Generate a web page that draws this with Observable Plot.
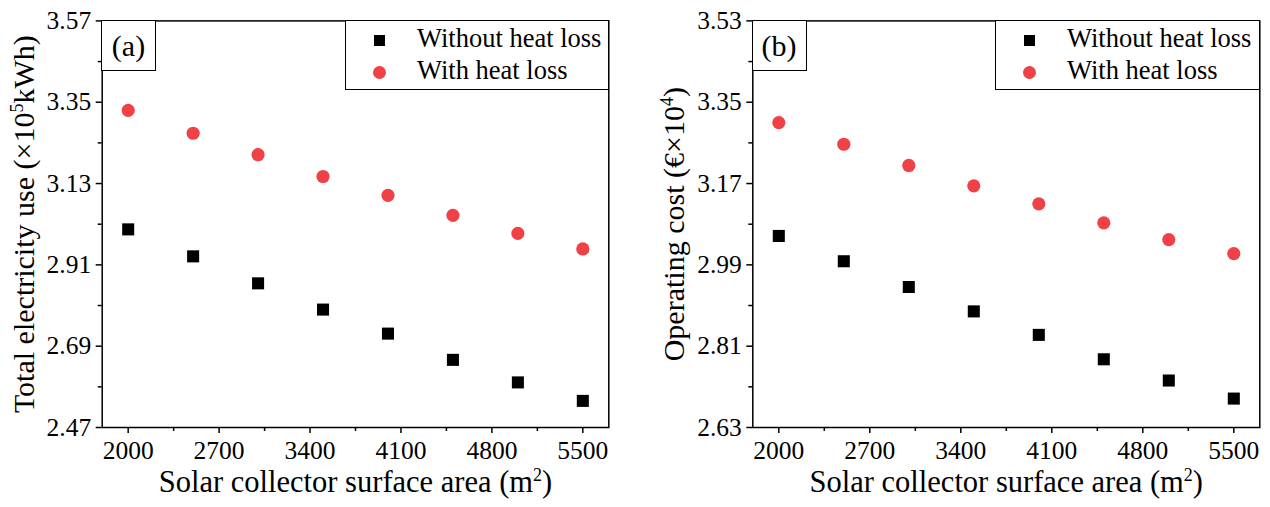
<!DOCTYPE html>
<html><head><meta charset="utf-8">
<script src="https://cdn.jsdelivr.net/npm/d3@7"></script>
<script src="https://cdn.jsdelivr.net/npm/@observablehq/plot@0.6"></script>
<style>
body{margin:0;background:#fff;}
#wrap{position:relative;width:1270px;height:507px;overflow:hidden;font-family:"Liberation Serif","LiberationSerif","Tinos","DejaVu Serif","Noto Serif",serif;color:#000;background:#fff;}
.panel{position:absolute;top:0;}
.box{position:absolute;border:1.5px solid #000;background:#fff;box-sizing:border-box;}
.tag{font-size:30px;line-height:1;}
.lt{position:absolute;font-size:26.5px;line-height:26px;white-space:nowrap;}
.mk{position:absolute;}
svg text{font-family:"Liberation Serif","LiberationSerif","Tinos","DejaVu Serif","Noto Serif",serif;}
</style></head>
<body><div id="wrap"></div>
<script>
// ---- data ----
const area = [2000, 2500, 3000, 3500, 4000, 4500, 5000, 5500];
const elecWithout = [3.006, 2.933, 2.860, 2.789, 2.724, 2.653, 2.592, 2.542];
const elecWith    = [3.328, 3.266, 3.208, 3.149, 3.098, 3.044, 2.995, 2.953];
const costWithout = [3.054, 2.998, 2.941, 2.887, 2.835, 2.781, 2.734, 2.694];
const costWith    = [3.305, 3.257, 3.210, 3.165, 3.125, 3.083, 3.046, 3.015];
const xTicks = [2000, 2700, 3400, 4100, 4800, 5500];
const xMinor = [2350, 3050, 3750, 4450, 5150];
const yTicksA = [2.47, 2.69, 2.91, 3.13, 3.35, 3.57];
const yMinorA = [2.58, 2.80, 3.02, 3.24, 3.46];
const yTicksB = [2.63, 2.81, 2.99, 3.17, 3.35, 3.53];
const yMinorB = [2.72, 2.90, 3.08, 3.26, 3.44];
const seriesNames = ["Without heat loss", "With heat loss"];
const xLabelParts = ["Solar collector surface area (m", "2", ")"];
const yLabelA = ["Total electricity use (\u00d710", "5", "kWh)"];
const yLabelB = ["Operating cost (\u20ac\u00d710", "4", ")"];
const panelTags = ["(a)", "(b)"];

const RED = "#ef4146";
const FONT = "'Liberation Serif', 'LiberationSerif', 'Tinos', 'DejaVu Serif', 'Noto Serif', serif";
const wrap = document.getElementById("wrap");

function applySup(svg, parts) {
  const full = parts.join("");
  d3.select(svg).selectAll("text").filter(function(){ return this.textContent === full; }).each(function(){
    const t = d3.select(this);
    t.text(null);
    t.append("tspan").text(parts[0]);
    t.append("tspan").attr("dy", -11).attr("font-size", 18).text(parts[1]);
    t.append("tspan").attr("dy", 11).text(parts[2]);
  });
}

function panel(o) {
  const rowsW = area.map((a, i) => ({x: a, y: o.without[i], s: seriesNames[0]}));
  const rowsH = area.map((a, i) => ({x: a, y: o.withL[i], s: seriesNames[1]}));
  const svg = Plot.plot({
    width: o.width, height: 507,
    marginLeft: o.ml, marginRight: o.mr, marginTop: 20.4, marginBottom: 80,
    style: {fontFamily: FONT, fontSize: "25px", color: "#000", background: "transparent", overflow: "visible"},
    x: {domain: [1800, 5700]},
    y: {domain: o.yDomain},
    marks: [
      Plot.axisX({ticks: xTicks, tickSize: 6, tickPadding: 7, tickFormat: d => String(d), label: null, strokeWidth: 1.5, fontSize: 25.5}),
      Plot.axisX({ticks: xMinor, tickSize: 4, tickFormat: null, text: null, label: null, strokeWidth: 1.5}),
      Plot.axisY({ticks: o.yTicks, tickSize: 6, tickPadding: 5, tickFormat: d3.format(".2f"), label: null, strokeWidth: 1.5, fontSize: 25.5}),
      Plot.axisY({ticks: o.yMinor, tickSize: 4, tickFormat: null, text: null, label: null, strokeWidth: 1.5}),
      Plot.frame({stroke: "#000", strokeWidth: 1.5}),
      Plot.dot(rowsW, {x: "x", y: "y", symbol: "square", fill: "#000", r: 6.8}),
      Plot.dot(rowsH, {x: "x", y: "y", symbol: "circle", fill: RED, r: 6.6}),
      Plot.text([xLabelParts.join("")], {text: d => d, frameAnchor: "bottom", textAnchor: "middle", dy: 64.5, fontSize: 30.5}),
      Plot.text([o.yLabel.join("")], {text: d => d, frameAnchor: "left", textAnchor: "middle", dx: -78, rotate: -90, fontSize: 30})
    ]
  });
  applySup(svg, xLabelParts);
  applySup(svg, o.yLabel);
  const div = document.createElement("div");
  div.className = "panel";
  div.style.left = o.left + "px";
  div.appendChild(svg);
  wrap.appendChild(div);
}

function addBox(left, top, w, h, cls) {
  const d = document.createElement("div");
  d.className = "box " + (cls || "");
  Object.assign(d.style, {left: left + "px", top: top + "px", width: w + "px", height: h + "px"});
  wrap.appendChild(d);
  return d;
}

function tag(left, text) {
  const d = addBox(left, 20.4, 55, 50.5, "tag");
  d.style.display = "flex"; d.style.alignItems = "center"; d.style.justifyContent = "center";
  d.textContent = text;
}

function legend(left, right) {
  addBox(left, 20.4, right - left + 0.75, 70);
  const mx = left + 34.5, tx = left + 72;
  const sq = document.createElement("div");
  sq.className = "mk";
  Object.assign(sq.style, {left: (mx - 5.5) + "px", top: (40 - 5.5) + "px", width: "11px", height: "11px", background: "#000"});
  wrap.appendChild(sq);
  const ci = document.createElement("div");
  ci.className = "mk";
  Object.assign(ci.style, {left: (mx - 6.5) + "px", top: (72 - 6.5) + "px", width: "13px", height: "13px", background: RED, borderRadius: "50%"});
  wrap.appendChild(ci);
  [[seriesNames[0], 47], [seriesNames[1], 78.5]].forEach(([t, base]) => {
    const s = document.createElement("div");
    s.className = "lt";
    s.style.left = tx + "px";
    s.style.top = (base - 22) + "px";
    s.textContent = t;
    wrap.appendChild(s);
  });
}

panel({left: 0, width: 635, ml: 101.7, mr: 26.7, without: elecWithout, withL: elecWith,
  yDomain: [2.47, 3.57], yTicks: yTicksA, yMinor: yMinorA, yLabel: yLabelA});
panel({left: 635, width: 635, ml: 117.3, mr: 10.7, without: costWithout, withL: costWith,
  yDomain: [2.63, 3.53], yTicks: yTicksB, yMinor: yMinorB, yLabel: yLabelB});

tag(101, panelTags[0]);
tag(751.5, panelTags[1]);
legend(345, 608.3);
legend(995, 1259.3);
</script>
</body></html>
